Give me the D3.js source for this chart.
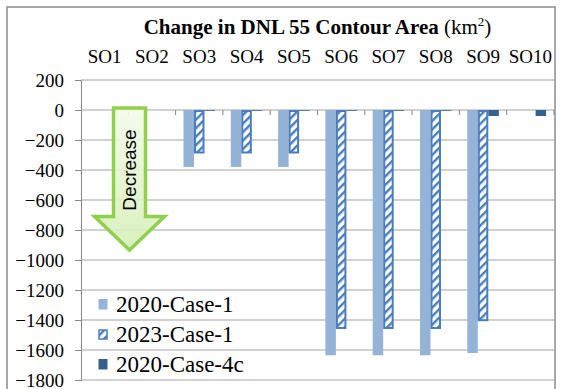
<!DOCTYPE html>
<html>
<head>
<meta charset="utf-8">
<script src="https://cdn.jsdelivr.net/npm/d3@7/dist/d3.min.js"></script>
<style>
  html, body { margin: 0; padding: 0; background: #fff; }
  svg { display: block; }
</style>
</head>
<body>
<script>
// Change in DNL 55 contour area per scenario option
const categories = ["SO1", "SO2", "SO3", "SO4", "SO5", "SO6", "SO7", "SO8", "SO9", "SO10"];
const seriesNames = ["2020-Case-1", "2023-Case-1", "2020-Case-4c"];
const case2020_1 = [0, 0, -380, -380, -380, -1635, -1635, -1635, -1620, 0];
const case2023_1 = [0, 0, -290, -290, -290, -1460, -1460, -1460, -1408, 0];
const case2020_4c = [0, 0, -5, -5, -5, -5, -5, -5, -40, -40];
const yTicks = [200, 0, -200, -400, -600, -800, -1000, -1200, -1400, -1600, -1800];

const W = 561, H = 389;
const plot = { left: 81, right: 554, top: 80, bottom: 380 };

const svg = d3.select("body").append("svg").attr("width", W).attr("height", H);
const defs = svg.append("defs");

// diagonal hatch for the 2023 series
const hatch = defs.append("pattern")
  .attr("id", "hatch").attr("patternUnits", "userSpaceOnUse")
  .attr("width", 6).attr("height", 6)
  .attr("patternTransform", "rotate(45)");
hatch.append("rect").attr("width", 6).attr("height", 6).attr("fill", "#fff");
hatch.append("rect").attr("x", 0).attr("width", 2.4).attr("height", 6).attr("fill", "#4a7ebb");

// fill for the "Decrease" arrow
const grad = defs.append("linearGradient").attr("id", "arrowFill")
  .attr("x1", 0).attr("y1", 0).attr("x2", 0).attr("y2", 1);
grad.append("stop").attr("offset", "0%").attr("stop-color", "#f3fbe9");
grad.append("stop").attr("offset", "100%").attr("stop-color", "#d5efb6");

// outer frame
svg.append("rect").attr("x", 7).attr("y", 7).attr("width", 548).attr("height", 400)
  .attr("fill", "none").attr("stroke", "#8c8c8c").attr("stroke-width", 1.5);

const x = d3.scaleBand().domain(categories).range([plot.left, plot.right]).padding(0);
const y = d3.scaleLinear().domain([-1800, 200]).range([plot.bottom, plot.top]);
const barW = x.bandwidth() / 4.5;
const x1 = d3.scaleBand().domain(seriesNames)
  .range([barW * 0.75, barW * 3.75]).padding(0);

// gridlines and y axis
const yAxis = d3.axisLeft(y).tickValues(yTicks).tickSize(6).tickFormat(d3.format("d"));
const gy = svg.append("g").attr("transform", `translate(${plot.left},0)`).call(yAxis);
gy.select(".domain").attr("stroke", "#868686");
gy.selectAll(".tick line").attr("stroke", "#868686");
gy.selectAll(".tick text")
  .attr("x", -17)
  .attr("font-family", "'Liberation Serif', 'Times New Roman', serif")
  .attr("font-size", 19).attr("fill", "#000");
svg.append("g").selectAll("line").data(yTicks).join("line")
  .attr("x1", plot.left).attr("x2", plot.right)
  .attr("y1", d => y(d)).attr("y2", d => y(d))
  .attr("stroke", "#a3a3a3").attr("stroke-width", 1);

// category ticks along the zero line
const bounds = categories.map(c => x(c)).concat([plot.right]);
svg.append("g").selectAll("line").data(bounds.slice(1)).join("line")
  .attr("x1", d => d).attr("x2", d => d)
  .attr("y1", y(0)).attr("y2", y(0) + 5)
  .attr("stroke", "#868686");

// bars
const rows = categories.map((c, i) => ({ c, v: [case2020_1[i], case2023_1[i], case2020_4c[i]] }));
const g = svg.append("g");
rows.forEach(r => {
  // 2020-Case-1
  if (r.v[0] !== 0) g.append("rect")
    .attr("x", x(r.c) + x1(seriesNames[0])).attr("width", x1.bandwidth())
    .attr("y", y(0)).attr("height", y(r.v[0]) - y(0))
    .attr("fill", "#95b3d7");
  // 2023-Case-1 (hatched, outlined)
  if (r.v[1] !== 0) g.append("rect")
    .attr("x", x(r.c) + x1(seriesNames[1]) + 1).attr("width", x1.bandwidth() - 2)
    .attr("y", y(0) + 1).attr("height", y(r.v[1]) - y(0) - 2)
    .attr("fill", "url(#hatch)").attr("stroke", "#4a7ebb").attr("stroke-width", 2);
  // 2020-Case-4c
  if (r.v[2] !== 0) g.append("rect")
    .attr("x", x(r.c) + x1(seriesNames[2])).attr("width", x1.bandwidth())
    .attr("y", y(0)).attr("height", y(r.v[2]) - y(0))
    .attr("fill", "#34618f");
});

// category labels above the plot
svg.append("g").selectAll("text").data(categories).join("text")
  .attr("x", d => x(d) + x.bandwidth() / 2).attr("y", 63)
  .attr("text-anchor", "middle")
  .attr("font-family", "'Liberation Serif', 'Times New Roman', serif")
  .attr("font-size", 19).attr("fill", "#000")
  .text(d => d);

// title
const title = svg.append("text")
  .attr("x", (plot.left + plot.right) / 2).attr("y", 34)
  .attr("text-anchor", "middle")
  .attr("font-family", "'Liberation Serif', 'Times New Roman', serif")
  .attr("font-size", 21).attr("fill", "#000");
title.append("tspan").attr("font-weight", "bold").text("Change in DNL 55 Contour Area ");
title.append("tspan").text("(km");
title.append("tspan").attr("font-size", 13).attr("dy", -8).text("2");
title.append("tspan").attr("dy", 8).text(")");

// "Decrease" arrow
const arrowX = 129.5, arrowTop = 108, headY = 216.5, tipY = 250, shaftHalf = 16, headHalf = 35;
const arrowPath = d3.path();
arrowPath.moveTo(arrowX - shaftHalf, arrowTop);
arrowPath.lineTo(arrowX + shaftHalf, arrowTop);
arrowPath.lineTo(arrowX + shaftHalf, headY);
arrowPath.lineTo(arrowX + headHalf, headY);
arrowPath.lineTo(arrowX, tipY);
arrowPath.lineTo(arrowX - headHalf, headY);
arrowPath.lineTo(arrowX - shaftHalf, headY);
arrowPath.closePath();
svg.append("path").attr("d", arrowPath.toString())
  .attr("fill", "url(#arrowFill)").attr("fill-opacity", 0.9)
  .attr("stroke", "#8fd14f").attr("stroke-width", 3.5).attr("stroke-linejoin", "miter");
svg.append("text")
  .attr("transform", `translate(${arrowX + 6.5},170) rotate(-90)`)
  .attr("text-anchor", "middle")
  .attr("font-family", "'Liberation Sans', Arial, sans-serif")
  .attr("font-size", 19).attr("fill", "#000")
  .text("Decrease");

// legend
const legend = svg.append("g");
const ly = [312, 342, 372];
seriesNames.forEach((name, i) => {
  const item = legend.append("g");
  if (i === 1) {
    item.append("rect").attr("x", 99).attr("y", ly[i] - 12).attr("width", 8).attr("height", 9)
      .attr("fill", "url(#hatch)").attr("stroke", "#4a7ebb").attr("stroke-width", 1.5);
  } else {
    item.append("rect").attr("x", 98.5).attr("y", ly[i] - 13).attr("width", 9).attr("height", 10.5)
      .attr("fill", i === 0 ? "#95b3d7" : "#34618f");
  }
  item.append("text").attr("x", 116).attr("y", ly[i])
    .attr("font-family", "'Liberation Serif', 'Times New Roman', serif")
    .attr("font-size", 23).attr("fill", "#000")
    .text(name);
});
</script>
</body>
</html>
